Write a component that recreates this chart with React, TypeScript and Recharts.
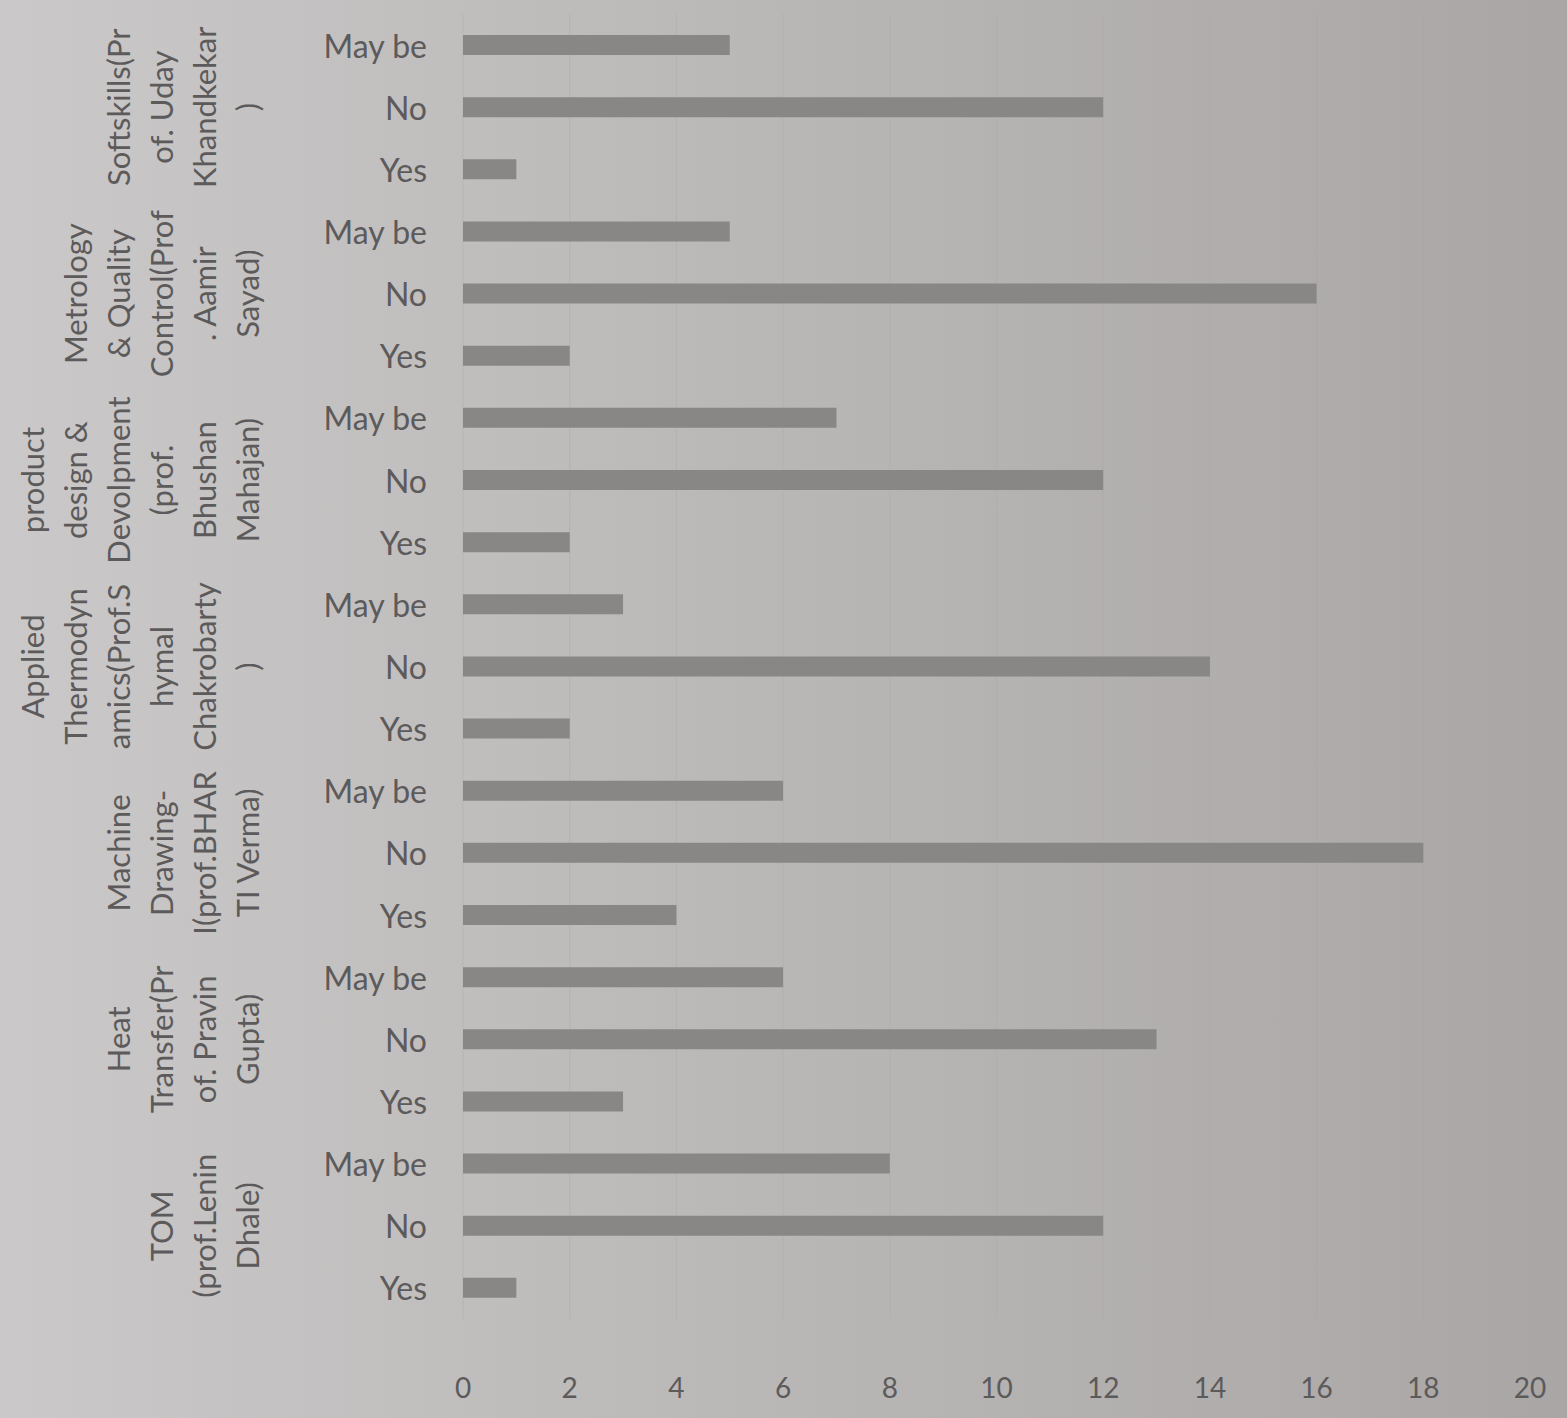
import React from 'react';
import { BarChart, Bar, XAxis, YAxis, CartesianGrid } from 'recharts';

// groups listed bottom to top, as on the chart
const groupLabels: string[][] = [
  ['TOM', '(prof.Lenin', 'Dhale)'],
  ['Heat', 'Transfer(Pr', 'of. Pravin', 'Gupta)'],
  ['Machine', 'Drawing-', 'I(prof.BHAR', 'TI Verma)'],
  ['Applied', 'Thermodyn', 'amics(Prof.S', 'hymal', 'Chakrobarty', ')'],
  ['product', 'design &', 'Devolpment', '(prof.', 'Bhushan', 'Mahajan)'],
  ['Metrology', '& Quality', 'Control(Prof', '. Aamir', 'Sayad)'],
  ['Softskills(Pr', 'of. Uday', 'Khandkekar', ')'],
];

const answers = ['Yes', 'No', 'May be'];

const yesCounts = [1, 3, 4, 2, 2, 2, 1];
const noCounts = [12, 13, 18, 14, 12, 16, 12];
const maybeCounts = [8, 6, 6, 3, 7, 5, 5];

const xTicks = [0, 2, 4, 6, 8, 10, 12, 14, 16, 18, 20];

const counts = [yesCounts, noCounts, maybeCounts];

// vertical layout draws the first row at the top, so build top-down
const rows: { id: string; group: number; answer: string; value: number }[] = [];
for (let g = groupLabels.length - 1; g >= 0; g--) {
  for (let a = answers.length - 1; a >= 0; a--) {
    rows.push({ id: `${g}-${answers[a]}`, group: g, answer: answers[a], value: counts[a][g] });
  }
}

const textColor = '#5c5a5a';
const fontFamily = 'Lato, "Open Sans", sans-serif';

const CategoryTick = (props: any) => {
  const { x, y, payload } = props;
  const row = rows.find((r) => r.id === payload.value);
  if (!row) return null;
  const lines = row.answer === 'No' ? groupLabels[row.group] : [];
  const lastX = x - 180;
  return (
    <g>
      <text x={x} y={y} textAnchor="end" dominantBaseline="central" fill={textColor} fontSize={32} fontFamily={fontFamily}>
        {row.answer}
      </text>
      {lines.map((line, i) => {
        const cx = lastX - (lines.length - 1 - i) * 43;
        return (
          <text
            key={i}
            x={cx}
            y={y}
            textAnchor="middle"
            dominantBaseline="central"
            transform={`rotate(-90, ${cx}, ${y})`}
            fill={textColor}
            fontSize={31}
            fontFamily={fontFamily}
          >
            {line}
          </text>
        );
      })}
    </g>
  );
};

const App: React.FC = () => {
  return (
    <div
      style={{
        position: 'absolute',
        left: 0,
        top: 0,
        width: 1567,
        height: 1418,
        background: 'linear-gradient(to right, #cac8c8 0%, #bbb8b8 45%, #aaa6a6 100%)',
      }}
    >
      <BarChart
        width={1567}
        height={1418}
        data={rows}
        layout="vertical"
        margin={{ top: 14, right: 37, bottom: 69, left: 0 }}
        barCategoryGap={0}
      >
        <CartesianGrid horizontal={false} stroke="#a5a2a2" strokeOpacity={0.35} />
        <XAxis
          type="number"
          domain={[0, 20]}
          ticks={xTicks}
          interval={0}
          height={30}
          axisLine={false}
          tickLine={false}
          tickMargin={53}
          tick={{ fill: textColor, fontSize: 28, fontFamily }}
        />
        <YAxis
          type="category"
          dataKey="id"
          width={463}
          interval={0}
          axisLine={false}
          tickLine={false}
          tickMargin={30}
          tick={<CategoryTick />}
        />
        <Bar dataKey="value" fill="#898686" barSize={20} isAnimationActive={false} />
      </BarChart>
    </div>
  );
};

export default App;
